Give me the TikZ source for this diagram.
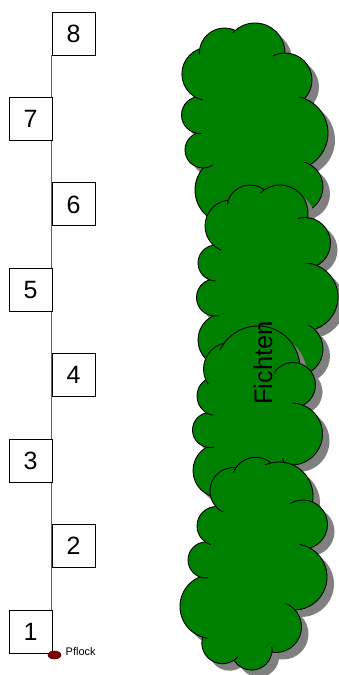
\documentclass[tikz,border=0pt]{standalone}
\usepackage{fontspec}
\setmainfont{Liberation Sans}
\usetikzlibrary{shapes.geometric}
\pgfdeclarelayer{behind}
\pgfsetlayers{behind,main}

\definecolor{treegreen}{RGB}{0,128,0}
\definecolor{treeshade}{RGB}{128,128,128}
\definecolor{pflockred}{RGB}{128,0,0}
\definecolor{pflockrim}{RGB}{80,0,0}
\definecolor{polegray}{RGB}{96,96,96}

\tikzset{
  numbox/.style={draw=black, line width=0.9pt, fill=white, minimum width=43pt,
    minimum height=43pt, inner sep=0pt, font=\fontsize{25}{30}\selectfont},
  cloudbody/.style={fill=treegreen},
  cloudshadow/.style={fill=treeshade},
  cloudedge/.style={draw=black, line width=0.9pt},
  pole/.style={draw=polegray, line width=1pt},
  pflockdot/.style={ellipse, fill=pflockred, draw=pflockrim, line width=0.6pt,
    minimum width=13pt, minimum height=8pt, inner sep=0pt},
}

% A tree crown: list of bumps x/y/r/h given clockwise; h is how far the
% start of each bump's arc runs on into the previous bump.
\newcommand\treecloud[1]{%
  \foreach \cx/\cy/\cr/\ch [count=\k] in {#1}{%
    \ifnum\k=1 \xdef\cloudfx{\cx}\xdef\cloudfy{\cy}\fi
    \xdef\cloudn{\k}}%
  % drop shadow
  \foreach \cx/\cy/\cr/\ch in {#1}{\fill[cloudshadow] (\cx+7,\cy+7) circle[radius=\cr pt];}%
  \fill[cloudshadow] (\cloudfx+7,\cloudfy+7)
    \foreach \cx/\cy/\cr/\ch in {#1}{ -- (\cx+7,\cy+7)} -- cycle;
  % body
  \foreach \cx/\cy/\cr/\ch in {#1}{\fill[cloudbody] (\cx,\cy) circle[radius=\cr pt];}%
  % outer arcs of every bump
  \foreach \cx/\cy/\cr/\ch [count=\i] in {#1}{%
    \pgfmathtruncatemacro\cloudprev{\i==1 ? \cloudn : \i-1}%
    \begin{scope}[even odd rule]
      \foreach \dx/\dy/\dr/\dh [count=\j] in {#1}{%
        \ifnum\j=\i\relax\else
          \ifnum\j=\cloudprev\relax \edef\cloudcut{\ch}\else \def\cloudcut{0}\fi
          \clip (-20,-20) rectangle (360,700)
            (\dx,\dy) circle[radius={(\dr-\cloudcut)*1pt}];
        \fi}%
      \draw[cloudedge] (\cx,\cy) circle[radius=\cr pt];
    \end{scope}}%
  % core between the bump centres
  \fill[cloudbody] (\cloudfx,\cloudfy)
    \foreach \cx/\cy/\cr/\ch in {#1}{ -- (\cx,\cy)} -- cycle;
}

\begin{document}
\begin{tikzpicture}[x=1pt, y=-1pt]
\useasboundingbox (0,0) rectangle (339,675);

% numbered marks along the pole
\node[numbox] (b8) at (73.5,33.5)  {8};
\node[numbox] (b7) at (30.5,118.9) {7};
\node[numbox] (b6) at (73.5,204.4) {6};
\node[numbox] (b5) at (30.5,289.8) {5};
\node[numbox] (b4) at (73.5,375.2) {4};
\node[numbox] (b3) at (30.5,460.6) {3};
\node[numbox] (b2) at (73.5,546.1) {2};
\node[numbox] (b1) at (30.5,631.5) {1};

\node[pflockdot] (pflock) at (54.5,655) {};
\node[anchor=west, inner sep=0pt, font=\fontsize{11}{13}\selectfont] (pflocktext) at (65.5,652) {Pflock};

\begin{pgfonlayer}{behind}
  \draw[pole] (b8.south west) -- (b8.south west |- pflock.center);
\end{pgfonlayer}

% row of spruces, top to bottom
\treecloud{224.6/53.3/25.3/5, 255/53/30/3, 285/80/27/12, 291/133/37/5,
  297/187/26/5, 262/205/28/5, 229/190/34/5, 203/150/18/5, 200/115/18.5/5,
  208.6/74/26.7/5}
\treecloud{250/208/23/5, 280/213/28/5, 305/243/25.5/9, 304/297/34/5,
  296/349/27/5, 260/360/30/5, 225/340/27/5, 215/297.5/18.5/5, 216/263/18/5,
  231/226/26/5}
\treecloud{230/369/26.5/5, 258/368/42/5, 293/385/22.5/25, 291.5/434/31/5,
  255/470/30/5, 220/470.6/27/5, 210/430/17.5/5, 216.6/396/19.6/5}
\treecloud{233.5/491/23.5/5, 255.6/481/23.7/5, 279/496/34/5, 303/524.5/24.5/20,
  294/577/33/5, 276/627/25.5/5, 251.6/649.6/20.5/5, 222.5/643/20.7/5,
  212/606.5/32/5, 206/560/18/5, 216.5/526/19.5/5}

\node[rotate=90, inner sep=0pt, font=\fontsize{25.5}{30}\selectfont] (fichten) at (263,363) {Fichten};
\end{tikzpicture}
\end{document}
